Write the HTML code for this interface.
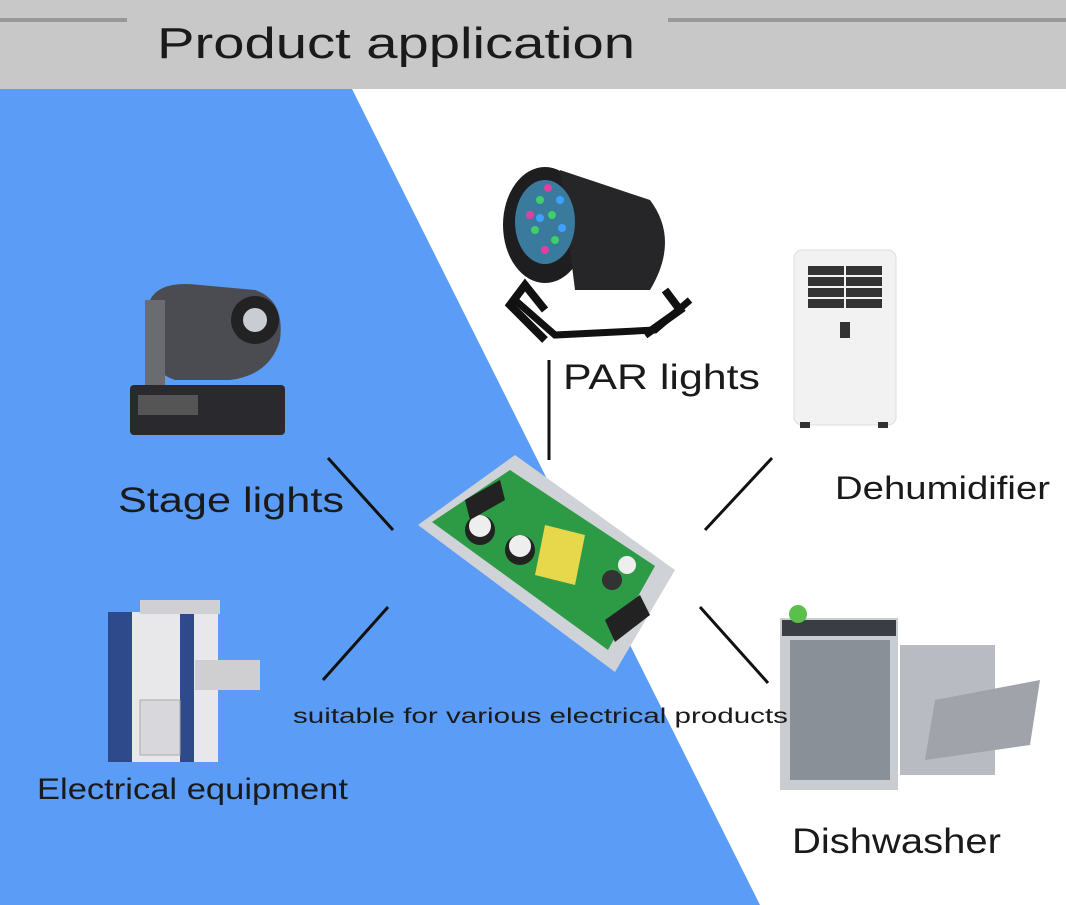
<!DOCTYPE html>
<html><head><meta charset="utf-8"><style>
html,body{margin:0;padding:0;background:#fff;}
svg{display:block}
text{font-family:"Liberation Sans","DejaVu Sans",sans-serif;fill:#1a1a1a;}
</style></head><body>
<svg width="1066" height="905" viewBox="0 0 1066 905" xmlns="http://www.w3.org/2000/svg">
<rect x="0" y="0" width="1066" height="905" fill="#fff"/>
<rect x="0" y="0" width="1066" height="89" fill="#c8c8c8"/>
<rect x="0" y="18" width="127" height="4" fill="#999"/>
<rect x="668" y="18" width="398" height="4" fill="#999"/>
<text x="157" y="58" font-size="44" textLength="478" lengthAdjust="spacingAndGlyphs" fill="#111">Product application</text>
<polygon points="0,89 352,89 760,905 0,905" fill="#5b9cf6"/>

<!-- connector lines -->
<g stroke="#111" stroke-width="3">
<line x1="549" y1="360" x2="549" y2="460"/>
<line x1="328" y1="458" x2="393" y2="530"/>
<line x1="772" y1="458" x2="705" y2="530"/>
<line x1="388" y1="607" x2="323" y2="680"/>
<line x1="700" y1="607" x2="768" y2="683"/>
</g>

<!-- Stage light -->
<g>
<rect x="130" y="385" width="155" height="50" rx="4" fill="#2a2a2e"/>
<rect x="138" y="395" width="60" height="20" fill="#555"/>
<path d="M150 300 Q160 280 200 285 L255 290 Q285 300 280 340 Q270 375 230 380 L175 380 Q145 370 145 330 Z" fill="#4a4c52"/>
<circle cx="255" cy="320" r="24" fill="#222"/>
<circle cx="255" cy="320" r="12" fill="#c9cdd3"/>
<rect x="145" y="300" width="20" height="85" fill="#6a6c72"/>
</g>

<!-- PAR light -->
<g>
<path d="M545 340 L510 305 L525 285 L545 310 M645 335 L680 310 L665 290" stroke="#111" stroke-width="8" fill="none"/>
<ellipse cx="545" cy="225" rx="42" ry="58" fill="#1e1e20"/>
<path d="M560 170 L650 200 Q680 240 650 290 L575 290 Z" fill="#262628"/>
<ellipse cx="545" cy="222" rx="30" ry="42" fill="#3a7a9c"/>
<g fill="#3ecf6a"><circle cx="540" cy="200" r="4"/><circle cx="552" cy="215" r="4"/><circle cx="535" cy="230" r="4"/><circle cx="555" cy="240" r="4"/></g>
<g fill="#e040a0"><circle cx="548" cy="188" r="4"/><circle cx="530" cy="215" r="4"/><circle cx="545" cy="250" r="4"/></g>
<g fill="#3fa0ff"><circle cx="560" cy="200" r="4"/><circle cx="540" cy="218" r="4"/><circle cx="562" cy="228" r="4"/></g>
<path d="M515 300 L555 335 L655 330 L690 300" stroke="#111" stroke-width="7" fill="none"/>
</g>

<!-- Dehumidifier -->
<g>
<rect x="794" y="250" width="102" height="175" rx="8" fill="#f2f2f2" stroke="#ddd"/>
<rect x="808" y="266" width="74" height="42" fill="#333"/>
<g stroke="#f2f2f2" stroke-width="2"><line x1="808" y1="276" x2="882" y2="276"/><line x1="808" y1="287" x2="882" y2="287"/><line x1="808" y1="298" x2="882" y2="298"/><line x1="845" y1="266" x2="845" y2="308"/></g>
<rect x="840" y="322" width="10" height="16" fill="#333"/>
<rect x="800" y="422" width="10" height="6" fill="#333"/><rect x="878" y="422" width="10" height="6" fill="#333"/>
</g>

<!-- PCB -->
<g>
<polygon points="418,525 515,455 675,570 615,672" fill="#cfd3d8"/>
<polygon points="432,522 510,470 655,566 608,650" fill="#2d9a46"/>
<polygon points="545,525 585,535 575,585 535,575" fill="#e6d84a"/>
<circle cx="480" cy="530" r="15" fill="#222"/><circle cx="480" cy="526" r="11" fill="#eee"/>
<circle cx="520" cy="550" r="15" fill="#222"/><circle cx="520" cy="546" r="11" fill="#eee"/>
<circle cx="612" cy="580" r="10" fill="#333"/><circle cx="627" cy="565" r="9" fill="#eee"/>
<polygon points="465,500 500,480 505,500 470,520" fill="#222"/>
<polygon points="605,620 640,595 650,615 615,642" fill="#222"/>
</g>

<!-- Copier -->
<g>
<rect x="108" y="612" width="110" height="150" fill="#e8e8ea"/>
<rect x="108" y="612" width="24" height="150" fill="#2f4a8a"/>
<rect x="180" y="612" width="14" height="150" fill="#2f4a8a"/>
<rect x="140" y="600" width="80" height="14" fill="#d0d0d4"/>
<rect x="195" y="660" width="65" height="30" fill="#cfcfd2"/>
<rect x="140" y="700" width="40" height="55" fill="#d8d8dc" stroke="#aaa"/>
</g>

<!-- Dishwasher -->
<g>
<rect x="780" y="618" width="118" height="172" fill="#c9ccd0"/>
<rect x="790" y="640" width="100" height="140" fill="#8a9098"/>
<rect x="782" y="620" width="114" height="16" fill="#3a3e44"/>
<rect x="900" y="645" width="95" height="130" fill="#b8bcc2"/>
<polygon points="935,700 1040,680 1030,745 925,760" fill="#a0a4aa"/>
<circle cx="798" cy="614" r="9" fill="#5ac04a"/>
</g>

<!-- labels -->
<text x="563" y="389" font-size="35" textLength="197" lengthAdjust="spacingAndGlyphs">PAR lights</text>
<text x="118" y="512" font-size="35" textLength="226" lengthAdjust="spacingAndGlyphs">Stage lights</text>
<text x="835" y="499" font-size="32" textLength="215" lengthAdjust="spacingAndGlyphs">Dehumidifier</text>
<text x="37" y="799" font-size="30" textLength="311" lengthAdjust="spacingAndGlyphs">Electrical equipment</text>
<text x="792" y="853" font-size="35" textLength="209" lengthAdjust="spacingAndGlyphs">Dishwasher</text>
<text x="293" y="723" font-size="21" textLength="495" lengthAdjust="spacingAndGlyphs">suitable for various electrical products</text>
</svg>
</body></html>
